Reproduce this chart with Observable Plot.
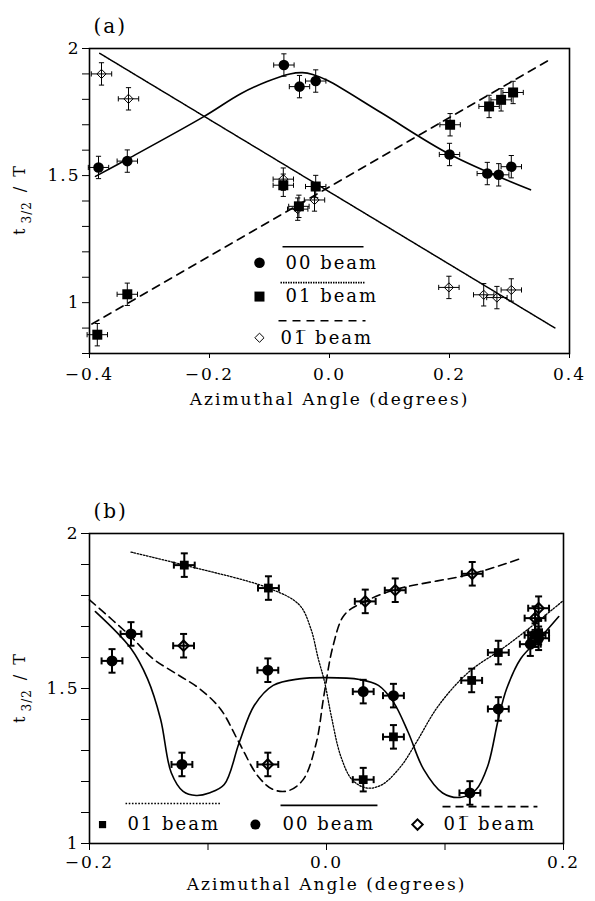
<!DOCTYPE html>
<html><head><meta charset="utf-8">
<script src="https://cdn.jsdelivr.net/npm/d3@7"></script>
<script src="https://cdn.jsdelivr.net/npm/@observablehq/plot@0.6"></script>
<style>
body{margin:0;background:#fff;}
#wrap{position:relative;width:595px;height:901px;background:#fff;overflow:hidden;}
#wrap svg{position:absolute;left:0;}
#wrap svg text{letter-spacing:2px;}
</style></head><body><div id="wrap"></div>
<script>
// ---------- Panel (a) data ----------
const aCircleX = [-0.385, -0.337, -0.076, -0.050, -0.023, 0.200, 0.263, 0.282, 0.303];
const aCircleY = [1.532, 1.557, 1.935, 1.850, 1.872, 1.583, 1.508, 1.503, 1.535];
const aSquareX = [-0.387, -0.337, -0.077, -0.051, -0.023, 0.201, 0.266, 0.286, 0.306];
const aSquareY = [0.874, 1.033, 1.462, 1.379, 1.457, 1.700, 1.772, 1.798, 1.827];
const aDiamondX = [-0.380, -0.335, -0.077, -0.053, -0.025, 0.199, 0.257, 0.279, 0.303];
const aDiamondY = [1.900, 1.802, 1.486, 1.368, 1.404, 1.060, 1.031, 1.020, 1.050];
// fitted curves (a)
const aSolidX = [-0.390, -0.336, -0.2095, -0.148, -0.104, -0.066, -0.045, -0.028, -0.003, 0.087, 0.201, 0.335];
const aSolidY = [1.497, 1.566, 1.732, 1.822, 1.870, 1.900, 1.905, 1.898, 1.874, 1.746, 1.583, 1.444];
const aDottedX = [-0.383, 0.376];
const aDottedY = [1.981, 0.900];
const aDashedX = [-0.396, 0.370];
const aDashedY = [0.916, 1.960];
// legend (a)
const aLegLabels = ["00 beam", "01 beam", "01\u0305 beam"];
const aLegSymbolX = [-0.1167, -0.1167, -0.1167];
const aLegTextX = [-0.0733, -0.0733, -0.0817];
const aLegY = [1.157, 1.024, 0.862];
const aLegLineX1 = [-0.0783, -0.0817, -0.085];
const aLegLineX2 = [0.0567, 0.060, 0.060];
const aLegLineY = [1.220, 1.079, 0.929];
// axes (a)
const aXTicks = [-0.4, -0.2, 0, 0.2, 0.4];
const aXLabels = ["\u22120.4", "\u22120.2", "0.0", "0.2", "0.4"];
const aYTicks = [0.8, 0.9, 1.0, 1.1, 1.2, 1.3, 1.4, 1.5, 1.6, 1.7, 1.8, 1.9, 2.0];
const aYLabels = ["", "", "1", "", "", "", "", "1.5", "", "", "", "", "2"];

// ---------- Panel (b) data ----------
const bCircleX = [-0.181, -0.165, -0.122, -0.0495, 0.031, 0.0565, 0.121, 0.145, 0.172, 0.179];
const bCircleY = [1.589, 1.676, 1.255, 1.559, 1.490, 1.477, 1.163, 1.434, 1.643, 1.662];
const bSquareX = [-0.120, -0.049, 0.031, 0.0565, 0.1225, 0.145, 0.176, 0.179];
const bSquareY = [1.898, 1.824, 1.206, 1.344, 1.526, 1.616, 1.672, 1.680];
const bDiamondX = [-0.1206, -0.0495, 0.0327, 0.058, 0.123, 0.176, 0.179];
const bDiamondY = [1.638, 1.255, 1.781, 1.817, 1.870, 1.727, 1.759];
// fitted curves (b)
const bDottedX = [-0.165, -0.120, -0.049, -0.023, -0.0133, -0.007, -0.0016, 0.004, 0.012, 0.0216, 0.034, 0.047, 0.063, 0.0756, 0.0946, 0.120, 0.1486, 0.171, 0.199];
const bDottedY = [1.940, 1.898, 1.824, 1.770, 1.694, 1.597, 1.521, 1.412, 1.282, 1.206, 1.179, 1.190, 1.250, 1.325, 1.445, 1.553, 1.629, 1.694, 1.781];
const bDashedX = [-0.200, -0.165, -0.1467, -0.1244, -0.107, -0.0895, -0.0737, -0.0578, -0.045, -0.0324, -0.0197, -0.0086, -0.0022, 0.0057, 0.0152, 0.0327, 0.058, 0.123, 0.1644];
const bDashedY = [1.786, 1.667, 1.597, 1.542, 1.499, 1.434, 1.325, 1.217, 1.174, 1.170, 1.206, 1.325, 1.477, 1.640, 1.738, 1.781, 1.819, 1.870, 1.920];
const bSolidX = [-0.195, -0.165, -0.151, -0.140, -0.131, -0.121, -0.110, -0.099, -0.0863, -0.0737, -0.061, -0.045, -0.023, 0, 0.028, 0.0438, 0.0565, 0.069, 0.082, 0.098, 0.1137, 0.1263, 0.136, 0.145, 0.152, 0.164, 0.180, 0.196];
const bSolidY = [1.748, 1.629, 1.531, 1.401, 1.228, 1.168, 1.155, 1.163, 1.190, 1.325, 1.445, 1.510, 1.531, 1.535, 1.529, 1.510, 1.456, 1.358, 1.239, 1.163, 1.149, 1.174, 1.249, 1.401, 1.499, 1.597, 1.662, 1.732];
// legend (b)
const bLegLabels = ["01 beam", "00 beam", "01\u0305 beam"];
const bLegSymbolX = [-0.189, -0.060, 0.0768];
const bLegTextX = [-0.168, -0.0371, 0.0987];
const bLegY = [1.061, 1.061, 1.061];
const bLegLineX1 = [-0.1696, -0.0388, 0.0979];
const bLegLineX2 = [-0.0895, 0.043, 0.178];
const bLegLineY = [1.129, 1.123, 1.119];
// axes (b)
const bXTicks = [-0.2, -0.1, 0, 0.1, 0.2];
const bXLabels = ["\u22120.2", "", "0.0", "", "0.2"];
const bYTicks = [1.0, 1.1, 1.2, 1.3, 1.4, 1.5, 1.6, 1.7, 1.8, 1.9, 2.0];
const bYLabels = ["1", "", "", "", "", "1.5", "", "", "", "", "2"];

const xTitle = "Azimuthal Angle (degrees)";

// ---------- helpers ----------
const rad = s => Math.sqrt(s / Math.PI);
const hCap = {draw(c, s){ const r = rad(s); c.moveTo(-r, 0); c.lineTo(r, 0); }};
const vCap = {draw(c, s){ const r = rad(s); c.moveTo(0, -r); c.lineTo(0, r); }};
const diamondSym = {draw(c, s){ const r = rad(s); c.moveTo(0, -r); c.lineTo(r, 0); c.lineTo(0, r); c.lineTo(-r, 0); c.closePath(); }};
const squareSym = {draw(c, s){ const r = rad(s); c.rect(-r, -r, 2 * r, 2 * r); }};

const rows = (xs, ys) => xs.map((x, i) => ({x, y: ys[i]}));

function errorBars(data, ex, ey, sw, cap) {
  const base = {stroke: "black", strokeWidth: sw};
  return [
    Plot.link(data, {x1: "x", x2: "x", y1: d => d.y - ey, y2: d => d.y + ey, ...base}),
    Plot.link(data, {x1: d => d.x - ex, x2: d => d.x + ex, y1: "y", y2: "y", ...base}),
    Plot.dot(data, {x: "x", y: d => d.y - ey, symbol: hCap, r: cap, fill: "none", ...base}),
    Plot.dot(data, {x: "x", y: d => d.y + ey, symbol: hCap, r: cap, fill: "none", ...base}),
    Plot.dot(data, {x: d => d.x - ex, y: "y", symbol: vCap, r: cap, fill: "none", ...base}),
    Plot.dot(data, {x: d => d.x + ex, y: "y", symbol: vCap, r: cap, fill: "none", ...base})
  ];
}

function legendLines(x1s, x2s, ys, dashes, sw) {
  return x1s.map((x1, i) => Plot.link([{x1, x2: x2s[i], y: ys[i]}], {
    x1: "x1", x2: "x2", y1: "y", y2: "y", stroke: "black", strokeWidth: sw, strokeDasharray: dashes[i]
  }));
}

function addYLabel(svg, cx, cy) {
  const t = d3.select(svg).append("text")
    .attr("transform", `translate(${cx},${cy}) rotate(-90)`)
    .attr("text-anchor", "middle")
    .attr("font-family", "'DejaVu Serif', serif")
    .attr("font-size", 16)
    .attr("fill", "#000")
    .style("fill", "#000")
    .style("letter-spacing", "1px");
  t.append("tspan").text("t");
  t.append("tspan").attr("font-size", 12).attr("dy", 6).attr("dx", 4).text("3/2");
  t.append("tspan").attr("dy", -6).attr("dx", 9).text("/");
  t.append("tspan").attr("dx", 9).text("T");
}

const styleBase = {fontFamily: "'DejaVu Serif', serif", fontSize: "17px", color: "black", background: "white", overflow: "visible"};

// ---------- Panel (a) ----------
const aCirc = rows(aCircleX, aCircleY), aSq = rows(aSquareX, aSquareY), aDi = rows(aDiamondX, aDiamondY);
const aLeg = aLegLabels.map((t, i) => ({t, sx: aLegSymbolX[i], tx: aLegTextX[i], y: aLegY[i]}));

const plotA = Plot.plot({
  width: 595, height: 440,
  marginTop: 48, marginBottom: 87, marginLeft: 89, marginRight: 26,
  style: styleBase,
  x: {domain: [-0.4, 0.4], ticks: aXTicks, tickFormat: d => aXLabels[aXTicks.findIndex(v => Math.abs(v - d) < 1e-9)], tickSize: 5, tickPadding: 9, label: null},
  y: {domain: [0.8, 2], ticks: aYTicks, tickFormat: d => aYLabels[aYTicks.findIndex(v => Math.abs(v - d) < 1e-9)], tickSize: 7, tickPadding: 2, label: null},
  marks: [
    Plot.frame({stroke: "black", strokeWidth: 1.6}),
    Plot.line(rows(aSolidX, aSolidY), {x: "x", y: "y", stroke: "black", strokeWidth: 1.6, curve: "catmull-rom"}),
    Plot.line(rows(aDottedX, aDottedY), {x: "x", y: "y", stroke: "black", strokeWidth: 1.5, strokeDasharray: "1.6,0.9"}),
    Plot.line(rows(aDashedX, aDashedY), {x: "x", y: "y", stroke: "black", strokeWidth: 1.6, strokeDasharray: "8,6"}),
    ...errorBars(aCirc, 0.017, 0.044, 1, 2.6),
    ...errorBars(aSq, 0.017, 0.044, 1, 2.6),
    ...errorBars(aDi, 0.017, 0.044, 1, 2.6),
    Plot.dot(aCirc, {x: "x", y: "y", r: 5.3, fill: "black", stroke: "none"}),
    Plot.dot(aSq, {x: "x", y: "y", symbol: squareSym, r: 5, fill: "black", stroke: "none"}),
    Plot.dot(aDi, {x: "x", y: "y", symbol: diamondSym, r: 4.6, fill: "none", stroke: "black", strokeWidth: 1}),
    // legend
    ...legendLines(aLegLineX1, aLegLineX2, aLegLineY, [null, "1.5,1", "8,6"], 1.6),
    Plot.dot([aLeg[0]], {x: "sx", y: "y", r: 5.3, fill: "black", stroke: "none"}),
    Plot.dot([aLeg[1]], {x: "sx", y: "y", symbol: squareSym, r: 5, fill: "black", stroke: "none"}),
    Plot.dot([aLeg[2]], {x: "sx", y: "y", symbol: diamondSym, r: 4.6, fill: "none", stroke: "black", strokeWidth: 1}),
    Plot.text(aLeg, {x: "tx", y: "y", text: "t", textAnchor: "start", fontSize: 18, fill: "black"}),
    Plot.text([xTitle], {frameAnchor: "bottom", dy: 51, text: d => d, fontSize: 17, fill: "black"}),
    Plot.text(["(a)"], {frameAnchor: "top-left", dx: 4, dy: -30, text: d => d, textAnchor: "start", fontSize: 20, fill: "black"})
  ]
});
plotA.style.top = "0px";
addYLabel(plotA, 25, 200);
document.getElementById("wrap").appendChild(plotA);

// ---------- Panel (b) ----------
const bCirc = rows(bCircleX, bCircleY), bSq = rows(bSquareX, bSquareY), bDi = rows(bDiamondX, bDiamondY);
const bLeg = bLegLabels.map((t, i) => ({t, sx: bLegSymbolX[i], tx: bLegTextX[i], y: bLegY[i]}));

const plotB = Plot.plot({
  width: 595, height: 461,
  marginTop: 93, marginBottom: 58, marginLeft: 89, marginRight: 32,
  style: styleBase,
  x: {domain: [-0.2, 0.2], ticks: bXTicks, tickFormat: d => bXLabels[bXTicks.findIndex(v => Math.abs(v - d) < 1e-9)], tickSize: 7, tickPadding: 5, label: null},
  y: {domain: [1, 2], ticks: bYTicks, tickFormat: d => bYLabels[bYTicks.findIndex(v => Math.abs(v - d) < 1e-9)], tickSize: 8, tickPadding: 2, label: null},
  marks: [
    Plot.frame({stroke: "black", strokeWidth: 1.6}),
    Plot.line(rows(bSolidX, bSolidY), {x: "x", y: "y", stroke: "black", strokeWidth: 1.6, curve: "catmull-rom"}),
    Plot.line(rows(bDottedX, bDottedY), {x: "x", y: "y", stroke: "black", strokeWidth: 1.3, strokeDasharray: "1.6,1.6", curve: "catmull-rom"}),
    Plot.line(rows(bDashedX, bDashedY), {x: "x", y: "y", stroke: "black", strokeWidth: 1.6, strokeDasharray: "8,5", curve: "catmull-rom"}),
    ...errorBars(bCirc, 0.0088, 0.038, 2, 3.5),
    ...errorBars(bSq, 0.0088, 0.038, 2, 3.5),
    ...errorBars(bDi, 0.0088, 0.038, 2, 3.5),
    Plot.dot(bCirc, {x: "x", y: "y", r: 5.5, fill: "black", stroke: "none"}),
    Plot.dot(bSq, {x: "x", y: "y", symbol: squareSym, r: 4.4, fill: "black", stroke: "none"}),
    Plot.dot(bDi, {x: "x", y: "y", symbol: diamondSym, r: 5.2, fill: "none", stroke: "black", strokeWidth: 2}),
    // legend
    ...legendLines(bLegLineX1, bLegLineX2, bLegLineY, ["1.6,1.6", null, "8,5"], 1.6),
    Plot.dot([bLeg[0]], {x: "sx", y: "y", symbol: squareSym, r: 3.6, fill: "black", stroke: "none"}),
    Plot.dot([bLeg[1]], {x: "sx", y: "y", r: 5, fill: "black", stroke: "none"}),
    Plot.dot([bLeg[2]], {x: "sx", y: "y", symbol: diamondSym, r: 5.2, fill: "none", stroke: "black", strokeWidth: 2}),
    Plot.text(bLeg, {x: "tx", y: "y", text: "t", textAnchor: "start", fontSize: 18, fill: "black"}),
    Plot.text([xTitle], {frameAnchor: "bottom", dy: 46, text: d => d, fontSize: 17, fill: "black"}),
    Plot.text(["(b)"], {frameAnchor: "top-left", dx: 4, dy: -30, text: d => d, textAnchor: "start", fontSize: 20, fill: "black"})
  ]
});
plotB.style.top = "440px";
addYLabel(plotB, 25, 248);
document.getElementById("wrap").appendChild(plotB);
</script></body></html>
